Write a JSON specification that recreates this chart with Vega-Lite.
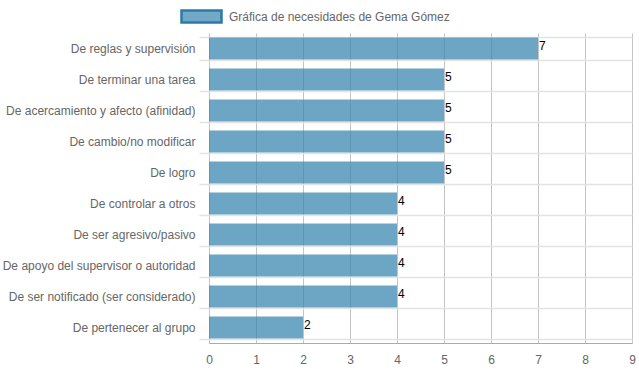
{
  "$schema": "https://vega.github.io/schema/vega-lite/v6.json",
  "width": 423,
  "height": 310,
  "autosize": {"type": "none"},
  "padding": {"left": 209, "top": 33, "right": 7, "bottom": 29},
  "background": "white",
  "config": {"view": {"stroke": null}, "font": "Liberation Sans"},
  "data": {
    "values": [
      {"necesidad": "De reglas y supervisión", "valor": 7},
      {"necesidad": "De terminar una tarea", "valor": 5},
      {"necesidad": "De acercamiento y afecto (afinidad)", "valor": 5},
      {"necesidad": "De cambio/no modificar", "valor": 5},
      {"necesidad": "De logro", "valor": 5},
      {"necesidad": "De controlar a otros", "valor": 4},
      {"necesidad": "De ser agresivo/pasivo", "valor": 4},
      {"necesidad": "De apoyo del supervisor o autoridad", "valor": 4},
      {"necesidad": "De ser notificado (ser considerado)", "valor": 4},
      {"necesidad": "De pertenecer al grupo", "valor": 2}
    ]
  },
  "layer": [
    {
      "mark": {"type": "bar", "fillOpacity": 0.75},
      "encoding": {
        "y": {
          "field": "necesidad", "type": "nominal", "sort": null,
          "scale": {"paddingInner": 0.29, "paddingOuter": 0.145},
          "axis": {
            "title": null, "grid": true, "gridColor": "#e3e3e3", "gridWidth": 1.5,
            "tickBand": "extent", "ticks": true, "tickSize": 10, "tickColor": "#e3e3e3", "tickWidth": 1.5,
            "domain": false, "labelPadding": 4, "labelFontSize": 12, "labelColor": "#666666", "labelLimit": 0
          }
        },
        "x": {
          "field": "valor", "type": "quantitative",
          "scale": {"domain": [0, 9], "nice": false},
          "axis": {
            "title": null, "values": [0,1,2,3,4,5,6,7,8,9], "grid": true, "gridColor": "#c4c4c4",
            "ticks": false, "domain": true, "domainColor": "#aaaaaa", "labelPadding": 11, "labelFlush": false,
            "labelFontSize": 12, "labelColor": "#666666"
          }
        },
        "color": {
          "datum": "Gráfica de necesidades de Gema Gómez",
          "scale": {"range": ["#3b88b0"]},
          "legend": {
            "orient": "none", "legendX": -29, "legendY": -38, "title": null, "labelLimit": 0,
            "symbolType": "M-1,-0.3H1V0.3H-1Z", "symbolSize": 1600, "symbolStrokeWidth": 2.5,
            "labelFontSize": 12, "labelColor": "#666666", "labelOffset": 6, "padding": 0,
            "encode": {"symbols": {"update": {"stroke": {"value": "#2c7aa9"}, "opacity": {"value": 1}, "fillOpacity": {"value": 0.72}, "strokeOpacity": {"value": 1}}}}
          }
        }
      }
    },
    {
      "mark": {"type": "text", "align": "left", "baseline": "middle", "dx": 1, "dy": -3, "fontSize": 12, "color": "#000000"},
      "encoding": {
        "y": {"field": "necesidad", "type": "nominal", "sort": null},
        "x": {"field": "valor", "type": "quantitative"},
        "text": {"field": "valor"}
      }
    }
  ]
}
